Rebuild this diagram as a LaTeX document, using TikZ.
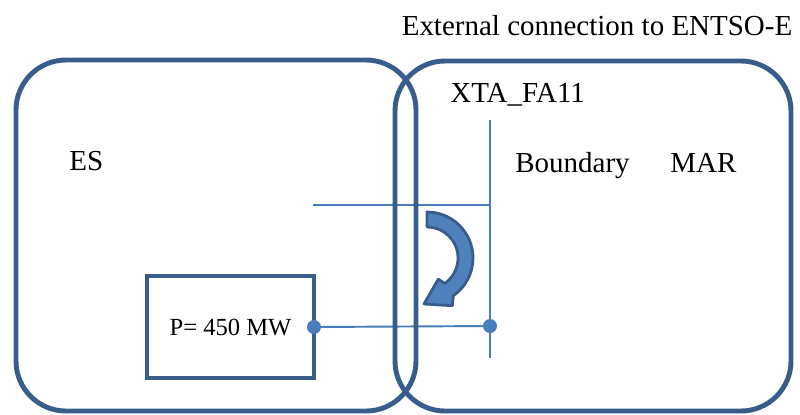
\documentclass[tikz,border=0pt]{standalone}
\usepackage{fontspec}
\setmainfont{Liberation Serif}
\usetikzlibrary{calc,positioning}
\definecolor{regcolor}{RGB}{56,93,138}
\definecolor{bndcolor}{RGB}{74,126,187}
\definecolor{arrcolor}{RGB}{79,129,189}

\begin{document}
\begin{tikzpicture}[x=0.02cm,y=-0.02cm]
  \tikzset{region/.style={draw=regcolor,line width=2.8pt,rounded corners=1cm},
    lab/.style={inner sep=0pt,font=\fontsize{16.5}{20}\selectfont},
    bline/.style={draw=bndcolor,line width=1.1pt},
    dot/.style={fill=bndcolor}}
  \useasboundingbox (0,0) rectangle (800,414);
  % ---------------- boundary lines
  \coordinate (btop) at (490,120);
  \coordinate (bbot) at (490,358);
  \coordinate (junc) at (490,326);
  \coordinate (tie) at (313,205);
  \coordinate (tieend) at (490,205);
  \node[draw=regcolor,line width=2.3pt,minimum width=3.34cm,minimum height=2.04cm,
    inner sep=0pt,outer sep=0pt,font=\fontsize{14}{16}\selectfont] (pbox) at (230.5,327) {P= 450 MW};
  \draw[bline] (btop) -- (bbot);
  \draw[bline] (tie) -- (tieend);
  \draw[bline] (pbox.east) -- (junc);
  \fill[dot] (pbox.east) circle[radius=0.14cm];
  \fill[dot] (junc) circle[radius=0.14cm];
  % ---------------- control areas
  \draw[region] (16,60) rectangle (416,411);
  \draw[region] (395,61) rectangle (791,411);
  % ---------------- labels
  \node[lab,anchor=base] (ext) at (597,35) {External connection to ENTSO-E};
  \node[lab,anchor=base west] (xta) at (450,102) {XTA\_FA11};
  \node[lab,anchor=base west] (es) at (69,170) {ES};
  \node[lab,anchor=base west] (bnd) at (515,172) {Boundary};
  \node[lab,anchor=base west] (mar) at (670,172) {MAR};
  % ---------------- flow arrow
  \coordinate (c) at (427,258);
  \filldraw[fill=arrcolor,draw=regcolor,line width=1.6pt,line join=round]
    ($(c)+(90:0.92cm)$) arc[start angle=90,end angle=-55,radius=0.92cm]
    -- ($(c)+(-62:1.08cm)$) -- (424,304) -- ($(c)+(-62:0.48cm)$)
    -- ($(c)+(-55:0.62cm)$) arc[start angle=-55,end angle=90,radius=0.62cm] -- cycle;
\end{tikzpicture}
\end{document}
